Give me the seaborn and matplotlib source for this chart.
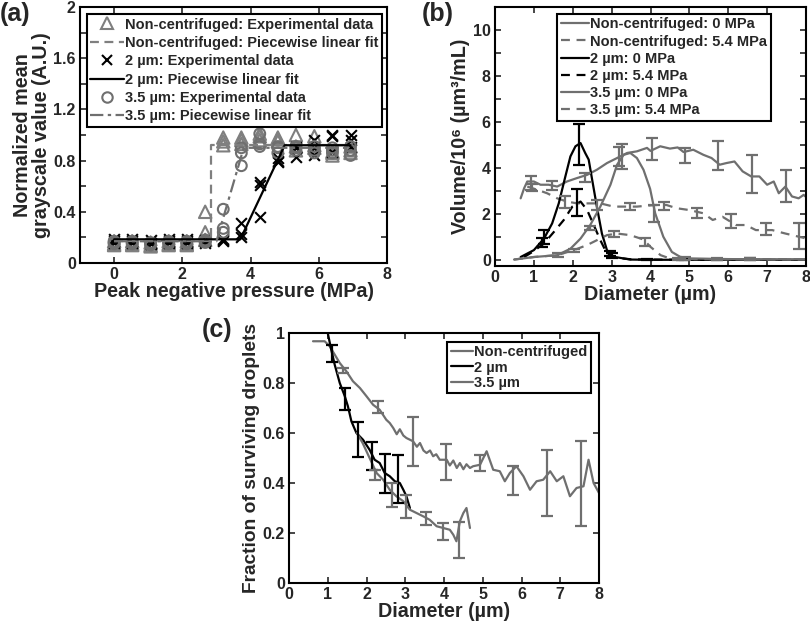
import numpy as np
import pandas as pd
import matplotlib
matplotlib.use("Agg")
import matplotlib.pyplot as plt
from matplotlib.lines import Line2D
import seaborn as sns

# ---- data panel (a): grayscale vs peak negative pressure (3 replicates)
pressure = [0, 0.53, 1.07, 1.6, 2.13, 2.67, 3.2, 3.73, 4.27, 4.8, 5.33, 5.87, 6.4, 6.93]
nc_a = [0.17, 0.17, 0.16, 0.17, 0.17, 0.40, 0.98, 0.98, 1.01, 0.98, 1.00, 0.99, 0.87, 0.91]
nc_b = [0.15, 0.15, 0.14, 0.15, 0.15, 0.24, 0.95, 0.93, 0.99, 0.95, 0.91, 0.90, 0.84, 0.86]
nc_c = [0.14, 0.14, 0.13, 0.14, 0.14, 0.18, 0.92, 0.96, 0.96, 0.97, 0.88, 0.92, 0.86, 0.88]
um2_a = [0.19, 0.19, 0.18, 0.19, 0.19, 0.18, 0.19, 0.31, 0.635, 0.80, 0.83, 0.84, 1.00, 1.00]
um2_b = [0.17, 0.17, 0.16, 0.17, 0.17, 0.17, 0.18, 0.23, 0.61, 0.79, 0.91, 0.96, 0.99, 0.96]
um2_c = [0.16, 0.16, 0.15, 0.16, 0.16, 0.16, 0.17, 0.20, 0.36, 0.82, 0.90, 0.90, 0.87, 0.91]
um35_a = [0.16, 0.16, 0.15, 0.16, 0.16, 0.17, 0.42, 0.86, 1.01, 0.86, 0.91, 0.88, 0.90, 0.84]
um35_b = [0.15, 0.15, 0.14, 0.15, 0.15, 0.16, 0.27, 0.76, 0.93, 0.91, 0.88, 0.86, 0.86, 0.88]
um35_c = [0.17, 0.17, 0.16, 0.17, 0.17, 0.18, 0.24, 0.90, 0.91, 0.90, 0.90, 0.91, 0.88, 0.91]

# piecewise linear fits
nc_fit_x = [0, 2.84, 2.84, 6.93]
nc_fit_y = [0.17, 0.17, 0.92, 0.92]
um2_fit_x = [0, 3.7, 5.0, 6.93]
um2_fit_y = [0.185, 0.185, 0.92, 0.92]
um35_fit_x = [0, 3.0, 3.8, 6.93]
um35_fit_y = [0.17, 0.17, 0.90, 0.90]

# ---- data panel (b): volume distributions
nc0_x = [0.66, 0.75, 0.83, 1.0, 1.17, 1.38, 1.6, 1.85, 2.11, 2.37, 2.62, 2.88, 3.14, 3.4, 3.65, 3.91, 4.0,
         4.25, 4.5, 4.7, 4.85, 5.1, 5.36, 5.57, 5.78, 5.95, 6.16, 6.37, 6.59, 6.8, 7.0, 7.17, 7.3, 7.47,
         7.64, 7.81, 7.94, 8.0]
nc0_y = [2.69, 3.13, 3.42, 3.42, 3.28, 3.28, 3.2, 3.42, 3.57, 3.71, 3.93, 4.22, 4.44, 4.66, 4.73, 4.88, 4.75,
         4.95, 4.85, 4.9, 4.7, 4.8, 4.58, 4.44, 4.15, 4.22, 4.29, 3.86, 3.64, 3.64, 3.28, 3.42, 2.91, 3.2,
         2.77, 2.69, 2.84, 2.75]
nc54_x = [0.83, 1.09, 1.34, 1.6, 1.85, 2.11, 2.45, 2.71, 3.05, 3.31, 3.65, 4.12, 4.41, 4.67, 5.0, 5.36,
          5.6, 5.85, 6.2, 6.45, 6.71, 7.13, 7.47, 7.82, 8.0]
nc54_y = [3.2, 3.06, 2.91, 2.69, 2.55, 2.47, 2.47, 2.47, 2.33, 2.33, 2.33, 2.4, 2.4, 2.26, 2.18, 2.04,
          1.75, 1.89, 1.53, 1.53, 1.31, 1.31, 1.16, 1.02, 0.95]
um2_0_x = [0.66, 1.0, 1.26, 1.47, 1.64, 1.81, 1.94, 2.07, 2.2, 2.32, 2.41, 2.5, 2.62, 2.75, 2.88, 3.05,
           3.48, 4.0, 5.0, 6.0, 7.0, 8.0]
um2_0_y = [0.14, 0.44, 0.94, 1.6, 2.47, 3.64, 4.51, 4.95, 5.09, 4.66, 4.37, 3.49, 2.33, 1.16, 0.44, 0.15,
           0.03, 0.02, 0.02, 0.02, 0.02, 0.02]
um2_54_x = [0.75, 1.0, 1.26, 1.52, 1.77, 1.99, 2.2, 2.37, 2.54, 2.71, 2.88, 3.05, 3.5, 4.0, 5.0, 6.0, 7.0, 8.0]
um2_54_y = [0.14, 0.4, 0.73, 1.24, 1.75, 2.33, 2.55, 2.18, 1.53, 0.87, 0.29, 0.12, 0.04, 0.03, 0.02, 0.02,
            0.02, 0.02]
um35_0_x = [0.49, 1.0, 1.6, 1.94, 2.2, 2.45, 2.71, 2.97, 3.14, 3.31, 3.48, 3.65, 3.82, 3.99, 4.12, 4.33,
            4.55, 4.76, 5.0, 6.0, 7.0, 8.0]
um35_0_y = [0.03, 0.14, 0.22, 0.5, 0.94, 1.53, 2.33, 3.28, 4.15, 4.58, 4.66, 4.44, 3.93, 3.1, 2.04, 1.02,
            0.36, 0.15, 0.08, 0.05, 0.04, 0.04]
um35_54_x = [0.49, 1.0, 1.6, 2.03, 2.37, 2.62, 2.88, 3.14, 3.48, 3.82, 4.0, 4.26, 4.51, 5.0, 6.0, 7.0, 8.0]
um35_54_y = [0.03, 0.14, 0.22, 0.44, 0.66, 0.87, 1.09, 1.16, 1.09, 0.9, 0.58, 0.22, 0.07, 0.05, 0.04,
             0.03, 0.03]

# error bars (b): x, low, high
nc0_bx = [0.92, 1.47, 2.32, 3.2, 4.04, 4.89, 5.74, 6.6, 7.49]
nc0_blo = [3.06, 3.06, 3.42, 4.1, 4.37, 4.22, 3.93, 2.91, 2.55]
nc0_bhi = [3.64, 3.46, 3.78, 4.9, 5.31, 4.88, 5.17, 4.58, 3.93]
nc54_bx = [0.95, 1.81, 2.62, 3.48, 4.35, 5.2, 6.06, 6.97, 7.83]
nc54_blo = [3.0, 2.26, 2.18, 2.18, 2.19, 1.82, 1.38, 1.09, 0.51]
nc54_bhi = [3.3, 2.77, 2.62, 2.5, 2.55, 2.26, 2.03, 1.6, 1.6]
um2_0_bx = [1.25, 2.16, 2.97, 3.9, 4.8, 5.7, 6.55]
um2_0_blo = [0.7, 4.15, 0.2, 0.0, 0.0, 0.0, 0.0]
um2_0_bhi = [1.31, 5.9, 0.38, 0.06, 0.05, 0.05, 0.08]
um2_54_bx = [1.2, 2.11, 3.0]
um2_54_blo = [0.58, 1.92, 0.1]
um2_54_bhi = [0.95, 3.09, 0.3]
um35_0_bx = [1.63, 2.45, 3.27, 4.08, 4.9, 5.72, 6.55]
um35_0_blo = [0.15, 1.3, 3.95, 1.67, 0.02, 0.0, 0.0]
um35_0_bhi = [0.3, 1.5, 5.05, 2.4, 0.12, 0.08, 0.08]
um35_54_bx = [2.03, 3.05, 3.86, 4.7]
um35_54_blo = [0.36, 1.0, 0.6, 0.02]
um35_54_bhi = [0.5, 1.27, 0.95, 0.1]

# ---- data panel (c): fraction of surviving droplets
c_nc_x = [0.62, 0.92, 1.05, 1.31, 1.48, 1.65, 1.83, 2.0, 2.17, 2.34, 2.51, 2.6, 2.69, 2.78, 2.86, 2.95,
          3.03, 3.2, 3.3, 3.38, 3.47, 3.55, 3.64, 3.72, 3.8, 3.89, 4.07, 4.15, 4.24, 4.33, 4.41, 4.5, 4.58,
          4.67, 4.75, 4.93, 5.1, 5.27, 5.44, 5.57, 5.7, 5.87, 6.05, 6.22, 6.39, 6.56, 6.74, 6.91, 7.08,
          7.25, 7.42, 7.6, 7.73, 7.86, 8.0]
c_nc_y = [0.967, 0.967, 0.947, 0.88, 0.847, 0.807, 0.78, 0.747, 0.713, 0.693, 0.653, 0.64, 0.62, 0.595,
          0.615, 0.59, 0.58, 0.567, 0.545, 0.56, 0.53, 0.52, 0.53, 0.507, 0.515, 0.493, 0.493, 0.47, 0.49,
          0.46, 0.48, 0.455, 0.475, 0.46, 0.467, 0.473, 0.527, 0.453, 0.447, 0.407, 0.44, 0.467, 0.427,
          0.373, 0.407, 0.413, 0.447, 0.407, 0.427, 0.347, 0.38, 0.387, 0.493, 0.4, 0.36]
c_2um_x = [1.0, 1.09, 1.18, 1.31, 1.44, 1.52, 1.61, 1.74, 1.91, 2.08, 2.21, 2.34, 2.47, 2.6, 2.73, 2.86,
           2.95, 3.03, 3.12]
c_2um_y = [1.0, 0.933, 0.873, 0.8, 0.747, 0.707, 0.647, 0.6, 0.573, 0.533, 0.493, 0.48, 0.44, 0.427,
           0.407, 0.4, 0.373, 0.347, 0.3]
c_35_x = [1.75, 1.9, 2.08, 2.26, 2.43, 2.6, 2.77, 2.95, 3.12, 3.29, 3.46, 3.63, 3.81, 3.98, 4.15, 4.24,
          4.32, 4.41, 4.5, 4.58, 4.67]
c_35_y = [0.6, 0.56, 0.5, 0.44, 0.413, 0.373, 0.347, 0.327, 0.293, 0.28, 0.267, 0.253, 0.227, 0.22,
          0.213, 0.193, 0.167, 0.247, 0.28, 0.3, 0.22]
c_nc_bx = [1.4, 2.3, 3.19, 4.05, 4.93, 5.79, 6.67, 7.54]
c_nc_blo = [0.841, 0.679, 0.468, 0.412, 0.447, 0.353, 0.267, 0.227]
c_nc_bhi = [0.859, 0.729, 0.663, 0.556, 0.513, 0.467, 0.533, 0.567]
c_2um_bx = [1.1, 1.44, 1.78, 2.13, 2.47, 2.82]
c_2um_blo = [0.885, 0.692, 0.505, 0.452, 0.359, 0.319]
c_2um_bhi = [0.952, 0.779, 0.645, 0.565, 0.516, 0.512]
c_35_bx = [2.21, 2.65, 3.01, 3.53, 3.98, 4.39]
c_35_blo = [0.412, 0.305, 0.26, 0.232, 0.172, 0.099]
c_35_bhi = [0.452, 0.4, 0.352, 0.285, 0.239, 0.245]

# ---- style
sns.set_style("ticks")
plt.rcParams['font.family'] = ['Liberation Sans', 'DejaVu Sans']
plt.rcParams['font.weight'] = 'bold'
plt.rcParams['axes.labelweight'] = 'bold'
plt.rcParams['axes.linewidth'] = 1.5

GRAY = '#6f6f6f'
LGRAY = '#7f7f7f'
BLK = '#000000'
TICK_FS = 11.5
LABEL_FS = 14.2
LEG_FS = 10.5

fig = plt.figure(figsize=(8.1, 6.25), dpi=100)
W, H = 810, 625


def add_ax(l, t, r, b):
    return fig.add_axes([l / W, 1 - b / H, (r - l) / W, (b - t) / H])


ax1 = add_ax(80, 7, 387, 263)
ax2 = add_ax(495, 7, 806, 266)
ax3 = add_ax(289, 333, 599, 583)


def style_ax(ax):
    ax.tick_params(direction='in', top=True, right=True, length=4, width=1.2,
                   labelsize=TICK_FS, pad=3)
    for s in ax.spines.values():
        s.set_linewidth(1.5)
        s.set_color('black')


def line(ax, x, y, color, ls='-', lw=1.6):
    sns.lineplot(x=x, y=y, sort=False, estimator=None, color=color, linestyle=ls, lw=lw, ax=ax)


def bars(ax, x, lo, hi, color, lw=1.6):
    lo = np.array(lo)
    hi = np.array(hi)
    mid = (lo + hi) / 2
    ax.errorbar(x, mid, yerr=(hi - lo) / 2, fmt='none', ecolor=color, elinewidth=lw,
                capsize=4.5, capthick=lw)


def legend(ax, handles, labels, anchor, hl, ls):
    leg = ax.legend(handles, labels, loc='upper left', bbox_to_anchor=anchor, fontsize=LEG_FS,
                    frameon=True, fancybox=False, edgecolor='black', framealpha=1,
                    handlelength=hl, handletextpad=0.1, borderpad=0.25, labelspacing=ls,
                    borderaxespad=0)
    leg.get_frame().set_linewidth(1.5)


# ---- panel (a)
def reps(a, b, c):
    return pd.DataFrame({'p': pressure * 3, 'v': a + b + c})


df_nc = reps(nc_a, nc_b, nc_c)
df_2 = reps(um2_a, um2_b, um2_c)
df_35 = reps(um35_a, um35_b, um35_c)

sns.scatterplot(data=df_nc, x='p', y='v', marker='^', s=80, facecolors='none',
                edgecolor=LGRAY, linewidth=1.5, ax=ax1)
line(ax1, nc_fit_x, nc_fit_y, LGRAY, ls=(0, (4, 2.5)))
sns.scatterplot(data=df_2, x='p', y='v', marker='x', s=60, color=BLK, linewidth=1.5, ax=ax1)
line(ax1, um2_fit_x, um2_fit_y, BLK)
sns.scatterplot(data=df_35, x='p', y='v', marker='o', s=60, facecolors='none',
                edgecolor=GRAY, linewidth=1.5, ax=ax1)
line(ax1, um35_fit_x, um35_fit_y, GRAY, ls=(0, (6, 2, 1.5, 2)))

ax1.set_xlim(-1, 8)
ax1.set_ylim(0, 2)
ax1.set_xticks([0, 2, 4, 6, 8])
ax1.set_yticks(np.arange(0, 2.01, 0.2))
ax1.set_yticklabels(['0', '', '0.4', '', '0.8', '', '1.2', '', '1.6', '', '2'])
ax1.set_xlabel('Peak negative pressure (MPa)', fontsize=LABEL_FS, labelpad=0)
ax1.set_ylabel('Normalized mean\ngrayscale value (A.U.)', fontsize=LABEL_FS, labelpad=2,
               linespacing=1.0)
style_ax(ax1)

h1 = [Line2D([], [], ls='none', marker='^', ms=8.5, mfc='none', mec=LGRAY, mew=1.5),
      Line2D([], [], color=LGRAY, ls=(0, (4, 2.5)), lw=1.6),
      Line2D([], [], ls='none', marker='x', ms=7.5, color=BLK, mew=1.5),
      Line2D([], [], color=BLK, lw=1.6),
      Line2D([], [], ls='none', marker='o', ms=7.5, mfc='none', mec=GRAY, mew=1.5),
      Line2D([], [], color=GRAY, ls=(0, (6, 2, 1.5, 2)), lw=1.6)]
l1 = ['Non-centrifuged: Experimental data', 'Non-centrifuged: Piecewise linear fit',
      '2 µm: Experimental data', '2 µm: Piecewise linear fit',
      '3.5 µm: Experimental data', '3.5 µm: Piecewise linear fit']
legend(ax1, h1, l1, (0.022, 0.973), 2.3, 0.3)

# ---- panel (b)
line(ax2, nc0_x, nc0_y, GRAY)
line(ax2, nc54_x, nc54_y, GRAY, ls=(0, (4, 3)))
line(ax2, um2_0_x, um2_0_y, BLK)
line(ax2, um2_54_x, um2_54_y, BLK, ls=(0, (4, 3)))
line(ax2, um35_0_x, um35_0_y, GRAY)
line(ax2, um35_54_x, um35_54_y, GRAY, ls=(0, (4, 3)))
bars(ax2, nc0_bx, nc0_blo, nc0_bhi, GRAY)
bars(ax2, nc54_bx, nc54_blo, nc54_bhi, GRAY)
bars(ax2, um2_0_bx, um2_0_blo, um2_0_bhi, BLK)
bars(ax2, um2_54_bx, um2_54_blo, um2_54_bhi, BLK)
bars(ax2, um35_0_bx, um35_0_blo, um35_0_bhi, GRAY)
bars(ax2, um35_54_bx, um35_54_blo, um35_54_bhi, GRAY)

ax2.set_xlim(0, 8)
ax2.set_ylim(-0.25, 11)
ax2.set_xticks(range(0, 9))
ax2.set_yticks(range(0, 11))
ax2.set_yticklabels(['0', '', '2', '', '4', '', '6', '', '8', '', '10'])
ax2.set_xlabel('Diameter (µm)', fontsize=LABEL_FS, labelpad=0)
ax2.set_ylabel('Volume/10⁶ (µm³/mL)', fontsize=LABEL_FS, labelpad=2)
style_ax(ax2)

h2 = [Line2D([], [], color=GRAY, lw=1.6),
      Line2D([], [], color=GRAY, ls=(0, (4, 3)), lw=1.6),
      Line2D([], [], color=BLK, lw=1.6),
      Line2D([], [], color=BLK, ls=(0, (4, 3)), lw=1.6),
      Line2D([], [], color=GRAY, lw=1.6),
      Line2D([], [], color=GRAY, ls=(0, (4, 3)), lw=1.6)]
l2 = ['Non-centrifuged: 0 MPa', 'Non-centrifuged: 5.4 MPa', '2 µm: 0 MPa', '2 µm: 5.4 MPa',
      '3.5 µm: 0 MPa', '3.5 µm: 5.4 MPa']
legend(ax2, h2, l2, (0.2, 0.974), 1.9, 0.22)

# ---- panel (c)
line(ax3, c_nc_x, c_nc_y, GRAY)
line(ax3, c_2um_x, c_2um_y, BLK)
line(ax3, c_35_x, c_35_y, GRAY)
bars(ax3, c_nc_bx, c_nc_blo, c_nc_bhi, GRAY)
bars(ax3, c_2um_bx, c_2um_blo, c_2um_bhi, BLK)
bars(ax3, c_35_bx, c_35_blo, c_35_bhi, GRAY)

ax3.set_xlim(0, 8)
ax3.set_ylim(0, 1)
ax3.set_xticks(range(0, 9))
ax3.set_yticks(np.arange(0, 1.01, 0.2))
ax3.set_yticklabels(['0', '0.2', '0.4', '0.6', '0.8', '1'])
ax3.set_xlabel('Diameter (µm)', fontsize=LABEL_FS, labelpad=0)
ax3.set_ylabel('Fraction of surviving droplets', fontsize=13.8, labelpad=2)
style_ax(ax3)

h3 = [Line2D([], [], color=GRAY, lw=1.6), Line2D([], [], color=BLK, lw=1.6),
      Line2D([], [], color=GRAY, lw=1.6)]
l3 = ['Non-centrifuged', '2 µm', '3.5 µm']
legend(ax3, h3, l3, (0.51, 0.965), 1.5, 0.08)

# panel letters
fig.text(0 / W, 1 - 2 / H, '(a)', fontsize=18, fontweight='bold', va='top')
fig.text(422 / W, 1 - 2 / H, '(b)', fontsize=18, fontweight='bold', va='top')
fig.text(202 / W, 1 - 318 / H, '(c)', fontsize=18, fontweight='bold', va='top')

fig.savefig('out.png', dpi=100, facecolor='white')
plt.close(fig)
